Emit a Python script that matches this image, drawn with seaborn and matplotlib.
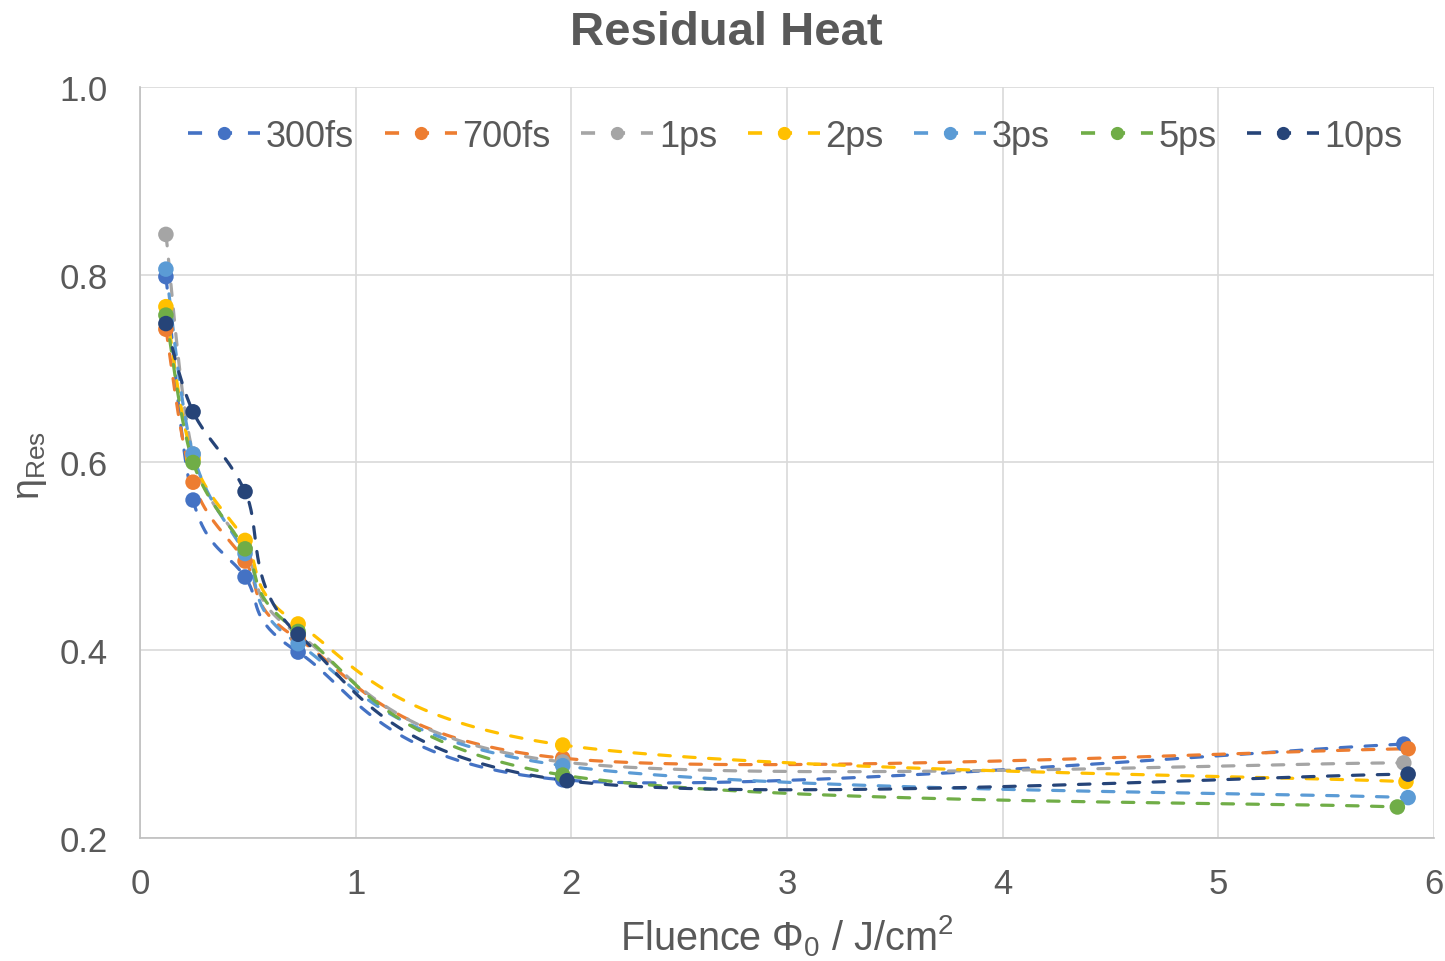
import numpy as np
import pandas as pd
import matplotlib
matplotlib.use("Agg")
import matplotlib.pyplot as plt
import seaborn as sns
from matplotlib.lines import Line2D

series = ["300fs", "700fs", "1ps", "2ps", "3ps", "5ps", "10ps"]
colors = ["#4472C4", "#ED7D31", "#A5A5A5", "#FFC000", "#5B9BD5", "#70AD47", "#264478"]

x_300fs = [0.12, 0.246, 0.487, 0.733, 1.96, 5.86]
y_300fs = [0.798, 0.560, 0.478, 0.398, 0.262, 0.300]
x_700fs = [0.12, 0.246, 0.487, 0.733, 1.96, 5.88]
y_700fs = [0.742, 0.579, 0.495, 0.412, 0.285, 0.295]
x_1ps = [0.12, 0.246, 0.487, 0.733, 1.96, 5.86]
y_1ps = [0.843, 0.609, 0.508, 0.417, 0.281, 0.280]
x_2ps = [0.12, 0.246, 0.487, 0.733, 1.96, 5.87]
y_2ps = [0.766, 0.604, 0.517, 0.428, 0.299, 0.260]
x_3ps = [0.12, 0.246, 0.487, 0.733, 1.96, 5.88]
y_3ps = [0.806, 0.609, 0.503, 0.407, 0.277, 0.243]
x_5ps = [0.12, 0.246, 0.487, 0.733, 1.96, 5.83]
y_5ps = [0.757, 0.600, 0.508, 0.420, 0.267, 0.233]
x_10ps = [0.12, 0.246, 0.487, 0.733, 1.98, 5.88]
y_10ps = [0.748, 0.654, 0.569, 0.417, 0.261, 0.268]

xs = [x_300fs, x_700fs, x_1ps, x_2ps, x_3ps, x_5ps, x_10ps]
ys = [y_300fs, y_700fs, y_1ps, y_2ps, y_3ps, y_5ps, y_10ps]

x_ticks = [0, 1, 2, 3, 4, 5, 6]
y_ticks = [0.2, 0.4, 0.6, 0.8, 1.0]


def smooth(px, py, n=40):
    # Excel-like smooth line: cubic Bezier with Catmull-Rom control points
    P = np.column_stack([px, py]).astype(float)
    out = []
    m = len(P)
    for i in range(m - 1):
        p0 = P[i - 1] if i > 0 else P[i]
        p1 = P[i]
        p2 = P[i + 1]
        p3 = P[i + 2] if i + 2 < m else P[i + 1]
        c1 = p1 + (p2 - p0) / 6.0
        c2 = p2 - (p3 - p1) / 6.0
        t = np.linspace(0, 1, n)[:, None]
        seg = ((1 - t) ** 3) * p1 + 3 * ((1 - t) ** 2) * t * c1 + 3 * (1 - t) * t ** 2 * c2 + t ** 3 * p2
        out.append(seg if i == 0 else seg[1:])
    return np.vstack(out)


sns.set_theme(style="white")
plt.rcParams["font.family"] = ["Liberation Sans", "DejaVu Sans"]
plt.rcParams["mathtext.fontset"] = "custom"
plt.rcParams["mathtext.rm"] = "Liberation Sans"
plt.rcParams["mathtext.it"] = "Liberation Sans:italic"
plt.rcParams["mathtext.bf"] = "Liberation Sans:bold"
gray = "#595959"

fig = plt.figure(figsize=(14.45, 9.62), dpi=100)
ax = fig.add_axes([0.0969, 0.1279, 0.8955, 0.7806])

pts_rows = []
curve_rows = []
for name, px, py in zip(series, xs, ys):
    for a, b in zip(px, py):
        pts_rows.append((name, a, b))
    c = smooth(px, py)
    for k, (a, b) in enumerate(c):
        curve_rows.append((name, k, a, b))
pts = pd.DataFrame(pts_rows, columns=["series", "x", "y"])
curves = pd.DataFrame(curve_rows, columns=["series", "k", "x", "y"])
pal = dict(zip(series, colors))

for name in series:
    d = curves[curves.series == name]
    ax.plot(d.x.values, d.y.values, color=pal[name], lw=2.3,
            linestyle=(0, (3.6, 4.2)), dash_capstyle="round", zorder=3)

sns.scatterplot(data=pts, x="x", y="y", hue="series", palette=pal,
                s=125, edgecolor="none", legend=False, ax=ax, zorder=4)

ax.set_xlim(0, 6)
ax.set_ylim(0.2, 1.0)
ax.set_xticks(x_ticks)
ax.set_yticks(y_ticks)
ax.set_xticklabels([str(v) for v in x_ticks])
ax.set_yticklabels([f"{v:.1f}" for v in y_ticks])
ax.grid(True, color="#D9D9D9", lw=1.2)
ax.set_axisbelow(True)
for s in ["top", "right"]:
    ax.spines[s].set_visible(False)
for s in ["left", "bottom"]:
    ax.spines[s].set_color("#BFBFBF")
    ax.spines[s].set_linewidth(1.2)
ax.tick_params(axis="both", colors=gray, labelsize=25, length=0)
ax.tick_params(axis="x", pad=21)
ax.tick_params(axis="y", pad=23)
ax.set_xlabel("")
ax.set_ylabel("")

fig.text(787 / 1445, 1 - 950 / 962, "Fluence Φ$_\\mathregular{0}$ / J/cm$^\\mathregular{2}$",
         fontsize=28.5, color=gray, ha="center", va="baseline")
fig.text(31 / 1445, 1 - 466 / 962, "η$_{\\mathregular{Res}}$", fontsize=27, color=gray,
         ha="center", va="center", rotation=90)
fig.text(726 / 1445, 1 - 33 / 962, "Residual Heat", fontsize=34, fontweight="bold",
         color=gray, ha="center", va="center")

handles = [Line2D([0], [0], color=c, lw=2.6, linestyle=(0, (3.9, 4.4)),
                  marker="o", markersize=9.5, markeredgewidth=0) for c in colors]
leg = ax.legend(handles, series, loc="center", bbox_to_anchor=(0.5065, 0.934),
                ncol=7, frameon=False, fontsize=26, handlelength=2.0,
                handletextpad=0.15, columnspacing=0.85, labelcolor=gray)

fig.savefig("out.png", dpi=100)
